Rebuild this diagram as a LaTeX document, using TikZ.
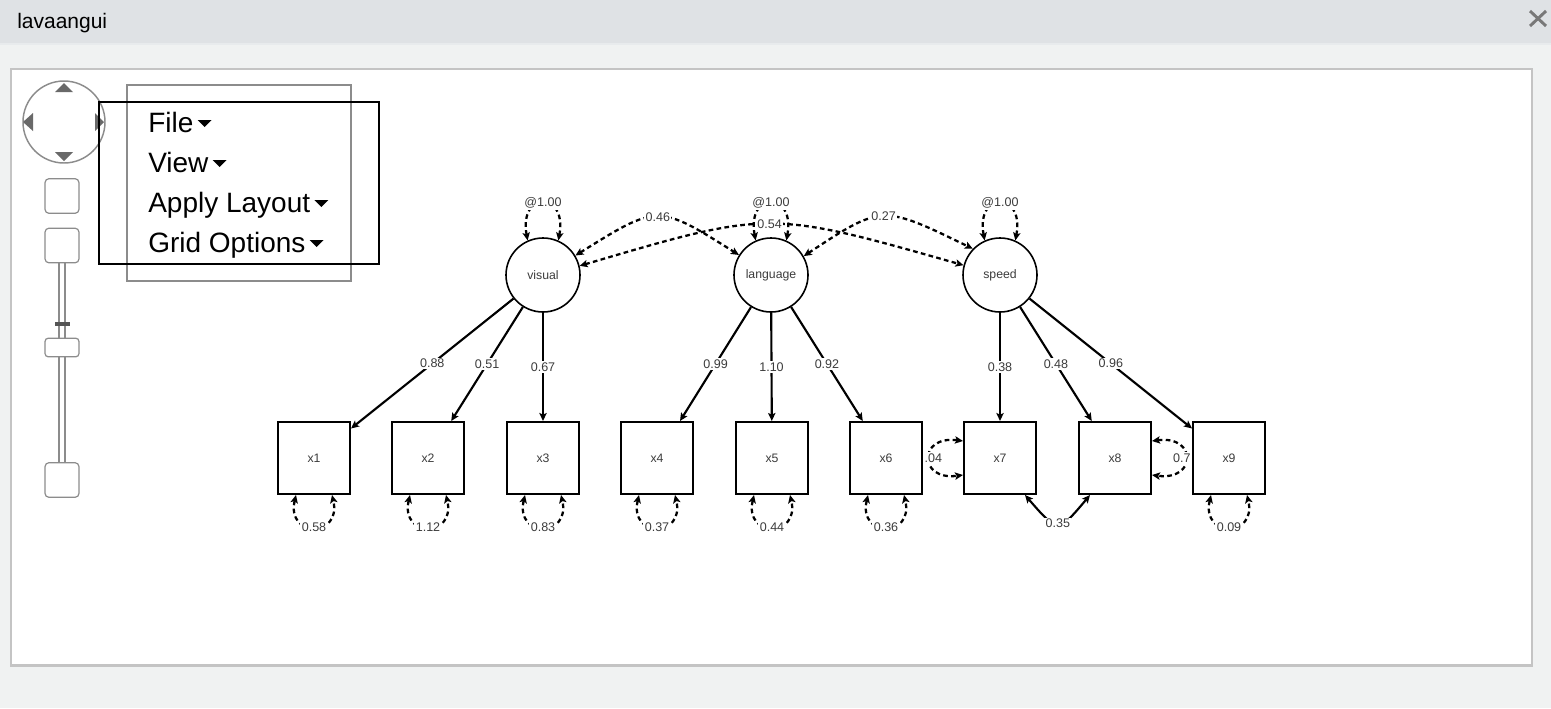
\documentclass[tikz,border=0pt]{standalone}
\usepackage{fontspec}
\setmainfont{Liberation Sans}
\usetikzlibrary{arrows.meta,calc}
\definecolor{titlegray}{RGB}{223,226,229}
\definecolor{titleedge}{RGB}{232,235,237}
\definecolor{pagegray}{RGB}{240,242,242}
\definecolor{panelborder}{RGB}{196,196,196}
\definecolor{ctrlgray}{RGB}{140,140,140}
\definecolor{arrowgray}{RGB}{105,105,105}
\definecolor{closegray}{RGB}{120,120,120}
\definecolor{bardark}{RGB}{85,85,85}
\definecolor{txtgray}{RGB}{60,60,60}
\begin{document}
\begin{tikzpicture}[x=0.75pt,y=-0.75pt,
  latentnode/.style={circle,draw=black,line width=1.2pt,minimum size=55.5pt,inner sep=0pt,fill=white,font=\fontsize{9.2}{10}\selectfont,text=txtgray},
  obsnode/.style={rectangle,draw=black,line width=1.5pt,minimum size=54pt,inner sep=0pt,fill=white,font=\fontsize{9.2}{10}\selectfont,text=txtgray},
  numlbl/.style={fill=white,inner sep=1pt,font=\fontsize{9.4}{10}\selectfont,text=txtgray},
  tipstyle/.style={-{Stealth[length=6pt,width=5.5pt,inset=1.3pt]}},
  loadarrow/.style={draw=black,line width=1.6pt,tipstyle},
  dashstyle/.style={draw=black,line width=1.7pt,dash pattern=on 3.5pt off 2.5pt,{Stealth[length=6pt,width=5.5pt,inset=1.3pt]}-{Stealth[length=6pt,width=5.5pt,inset=1.3pt]}},
  solidcov/.style={draw=black,line width=1.6pt,{Stealth[length=6pt,width=5.5pt,inset=1.3pt]}-{Stealth[length=6pt,width=5.5pt,inset=1.3pt]}},
  uibtn/.style={draw=ctrlgray,line width=0.9pt,rounded corners=3pt,fill=white,minimum width=25.5pt,minimum height=26pt,inner sep=0pt},
  menutxt/.style={anchor=base west,inner sep=0pt,font=\fontsize{21}{24}\selectfont,text=black}
]
\useasboundingbox (0,0) rectangle (1551,708);
% window background
\fill[pagegray] (0,0) rectangle (1551,708);
\fill[titlegray] (0,0) rectangle (1551,43);
\fill[titleedge] (0,43) rectangle (1551,45);
\node[anchor=base west,inner sep=0pt,font=\fontsize{15.75}{18}\selectfont,text=black] (title) at (17,28) {lavaangui};
\draw[closegray,line width=2.2pt] (1530,11) -- (1546,26) (1530,26) -- (1546,11);
% panel
\draw[fill=white,draw=panelborder,line width=1.5pt] (11,69) rectangle (1532,666);
\draw[panelborder,line width=2pt] (11,665) -- (1532,665);

% navigation pad
\node[circle,draw=ctrlgray,line width=1.1pt,minimum size=61.5pt,inner sep=0pt] (navpad) at (64,122) {};
\fill[arrowgray] (55,92) -- (73,92) -- (64,83) -- cycle;
\fill[arrowgray] (55,152) -- (73,152) -- (64,161) -- cycle;
\fill[arrowgray] (33,113) -- (33,131) -- (23,122) -- cycle;
\fill[arrowgray] (95,113) -- (95,131) -- (104,122) -- cycle;
% zoom controls
\node[uibtn] (zoomin) at (62,196) {};
\node[uibtn] (zoomout) at (62,245.5) {};
\node[uibtn] (slbottom) at (62,480) {};
\draw[ctrlgray,line width=0.9pt] ([xshift=-2.25pt]zoomout.south) -- ([xshift=-2.25pt]slbottom.north);
\draw[ctrlgray,line width=0.9pt] ([xshift=2.25pt]zoomout.south) -- ([xshift=2.25pt]slbottom.north);
\draw[bardark,line width=2.4pt] (55,324) -- (70,324);
\node[uibtn,minimum height=14pt,rounded corners=2.5pt] (slhandle) at (62,347.5) {};

% menu boxes
\draw[ctrlgray,line width=1pt] (127,85) rectangle (351,281);
\draw[black,line width=1.4pt] (99,102) rectangle (379,264);
\node[menutxt] (mfile) at (148,132) {File};
\node[menutxt] (mview) at (148,172) {View};
\node[menutxt] (mlayout) at (148,212) {Apply Layout};
\node[menutxt] (mgrid) at (148,252) {Grid Options};
\foreach \m in {mfile,mview,mlayout,mgrid}{
  \fill ($(\m.base east)+(4,-12)$) -- ++(14,0) -- ++(-7,7) -- cycle;
}

% latent variables
\node[latentnode] (visual) at (543,275) {visual};
\node[latentnode] (language) at (771,275) {language};
\node[latentnode] (speed) at (1000,275) {speed};
% observed variables
\node[obsnode] (x1) at (314,458) {x1};
\node[obsnode] (x2) at (428,458) {x2};
\node[obsnode] (x3) at (543,458) {x3};
\node[obsnode] (x4) at (657,458) {x4};
\node[obsnode] (x5) at (772,458) {x5};
\node[obsnode] (x6) at (886,458) {x6};
\node[obsnode] (x7) at (1000,458) {x7};
\node[obsnode] (x8) at (1115,458) {x8};
\node[obsnode] (x9) at (1229,458) {x9};

% loadings
\draw[loadarrow] (visual) -- node[numlbl]{0.88} (x1);
\draw[loadarrow] (visual) -- node[numlbl]{0.51} (x2);
\draw[loadarrow] (visual) -- node[numlbl]{0.67} (x3);
\draw[loadarrow] (language) -- node[numlbl]{0.99} (x4);
\draw[loadarrow] (language) -- node[numlbl]{1.10} (x5);
\draw[loadarrow] (language) -- node[numlbl]{0.92} (x6);
\draw[loadarrow] (speed) -- node[numlbl]{0.38} (x7);
\draw[loadarrow] (speed) -- node[numlbl]{0.48} (x8);
\draw[loadarrow] (speed) -- node[numlbl]{0.96} (x9);

% latent variances
\foreach \lv in {visual,language,speed}{
  \draw[dashstyle] (\lv.114) .. controls +(-9,-50) and +(9,-50) .. (\lv.66) node[midway,numlbl]{@1.00};
}
% latent covariances
\draw[dashstyle] (visual.31) .. controls (658,204) .. (language.148) node[midway,numlbl]{0.46};
\draw[dashstyle] (visual.14) .. controls (769,210) .. (speed.165) node[midway,numlbl]{0.54};
\draw[dashstyle] (language.30) .. controls (882,204.5) .. (speed.136) node[midway,numlbl]{0.27};

% residual variances
\foreach \ov/\val in {x1/0.58,x2/1.12,x3/0.83,x4/0.37,x5/0.44,x6/0.36,x9/0.09}{
  \draw[dashstyle] ($(\ov.south)+(-18,0)$) .. controls +(-10,43) and +(10,43) .. ($(\ov.south)+(18,0)$) node[midway,numlbl]{\val};
}
% residual covariances
\draw[dashstyle] ($(x7.west)+(0,-17)$) .. controls +(-45,-6) and +(-45,6) .. ($(x7.west)+(0,17)$) node[midway,numlbl,xshift=3pt]{.04};
\draw[dashstyle] ($(x8.east)+(0,-17)$) .. controls +(45,-6) and +(45,6) .. ($(x8.east)+(0,17)$) node[midway,numlbl,xshift=-3pt]{0.7};
\draw[solidcov] ($(x7.south)+(25,0)$) .. controls (1058,533) .. ($(x8.south)+(-25,0)$) node[midway,numlbl]{0.35};
\end{tikzpicture}
\end{document}
